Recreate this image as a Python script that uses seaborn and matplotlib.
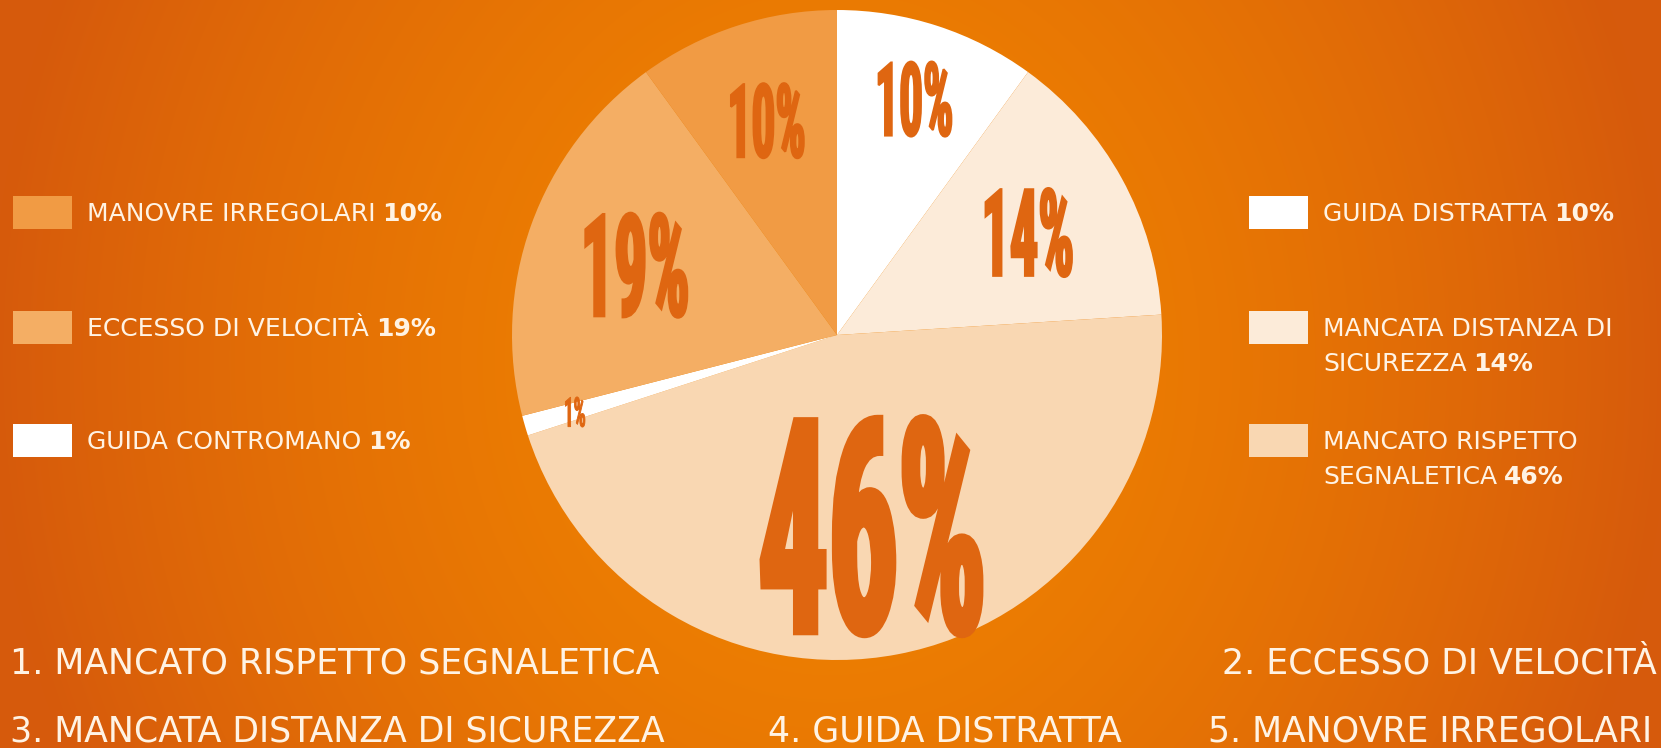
import textwrap
import numpy as np
import matplotlib
matplotlib.use("Agg")
import matplotlib.pyplot as plt
import seaborn as sns
from matplotlib.patches import Rectangle
from matplotlib.patheffects import AbstractPathEffect
from matplotlib.transforms import Affine2D
from matplotlib.colors import to_rgb
from matplotlib.font_manager import FontProperties, findfont
from matplotlib.textpath import TextPath

# causes in pie order, starting at 12 o'clock and going clockwise
causes = ["Guida distratta", "Mancata distanza di sicurezza",
          "Mancato rispetto segnaletica", "Guida contromano",
          "Eccesso di velocità", "Manovre irregolari"]
shares = [10, 14, 46, 1, 19, 10]

left_legend = ["Manovre irregolari", "Eccesso di velocità", "Guida contromano"]
right_legend = ["Guida distratta", "Mancata distanza di sicurezza",
                "Mancato rispetto segnaletica"]

# styling
slice_colors = ["#FFFFFF", "#FCEBD9", "#F9D7B2", "#FFFFFF", "#F4AE64", "#F19B44"]
label_height = [77, 91, 224, 31, 107, 77]           # digit height in px, per slice
label_radius = [0.77, 0.67, 0.58, 0.84, 0.66, 0.70]  # fraction of pie radius
label_color = "#DF6611"
text_color = "#FFF3E4"

W, H = 1661, 748
PX = 100 / 72  # px per pt


def pick_font(names, weight="bold"):
    for n in names:
        try:
            findfont(FontProperties(family=n, weight=weight), fallback_to_default=False)
            return n
        except ValueError:
            continue
    return "DejaVu Sans"


narrow = pick_font(["Liberation Sans Narrow", "DejaVu Sans Condensed",
                    "Roboto Condensed", "Open Sans Condensed", "DejaVu Sans"])
narrow_fp = FontProperties(family=narrow, weight="bold")
digit_h = TextPath((0, 0), "0", size=100, prop=narrow_fp).get_extents().height / 100
nat_w = TextPath((0, 0), "10%", size=100, prop=narrow_fp).get_extents().width / 100
# tall, condensed look: stretch glyphs upward instead of squeezing sideways
stretch_y = max(1.0, nat_w / (0.97 * digit_h))


class Stretch(AbstractPathEffect):
    """Stretch glyphs vertically from the baseline and fatten them a little."""

    def __init__(self, sy=1.5, lw=0.0):
        super().__init__()
        self.sy = sy
        self.lw = lw

    def draw_path(self, renderer, gc, tpath, affine, rgbFace=None):
        by = affine.transform((0, 0))[1]
        tr = affine + Affine2D().translate(0, -by).scale(1, self.sy).translate(0, by)
        gc0 = renderer.new_gc()
        gc0.copy_properties(gc)
        gc0.set_linewidth(self.lw)
        gc0.set_foreground(rgbFace)
        gc0.set_joinstyle("miter")
        renderer.draw_path(gc0, tpath, tr, rgbFace)
        gc0.restore()


sns.set_theme(style="white")
plt.rcParams["font.family"] = ["DejaVu Sans"]

fig = plt.figure(figsize=(W / 100, H / 100), dpi=100)
ax = fig.add_axes([0, 0, 1, 1])

# orange radial background
yy, xx = np.mgrid[0:H, 0:W]
t = np.sqrt(((xx - 830) / 840.0) ** 2 + ((yy - 360) / 950.0) ** 2)
t = np.clip(t, 0, 1) ** 1.6
c0 = np.array(to_rgb("#F08300"))
c1 = np.array(to_rgb("#D65A0C"))
bg = c0 * (1 - t[..., None]) + c1 * t[..., None]
ax.imshow(bg, extent=(0, W, 0, H), origin="upper", aspect="auto", zorder=0)

# pie
cx, cy, R = 837, H - 335, 325
wedges, _ = ax.pie(shares, colors=slice_colors, startangle=90, counterclock=False,
                   center=(cx, cy), radius=R, frame=True,
                   wedgeprops=dict(linewidth=0))
for w in wedges:
    w.set_zorder(2)

for w, val, hpx, frac in zip(wedges, shares, label_height, label_radius):
    mid = np.deg2rad(0.5 * (w.theta1 + w.theta2))
    x = w.center[0] + frac * w.r * np.cos(mid)
    y = w.center[1] + frac * w.r * np.sin(mid)
    lw_pt = 0.02 * hpx
    fs = (hpx - lw_pt * PX) / (digit_h * stretch_y) / PX
    ax.text(x, y - hpx / 2, f"{val}%", fontsize=fs,
            fontfamily=narrow, fontweight="bold",
            color=label_color, ha="center", va="baseline", zorder=3,
            path_effects=[Stretch(sy=stretch_y, lw=lw_pt)])

# legends
share_of = dict(zip(causes, shares))
leg_fs = 18
leg_cap = 0.729 * leg_fs * PX
box_w, box_h = 59, 33
rows_y = [212, 327, 440]   # image-space centres of the legend rows
line_gap = 35


def legend_column(names, box_x, text_x):
    for name, yc in zip(names, rows_y):
        color = slice_colors[causes.index(name)]
        ax.add_patch(Rectangle((box_x, H - yc - box_h / 2), box_w, box_h,
                               facecolor=color, edgecolor="none", zorder=2))
        lines = textwrap.wrap(name.upper(), 19)
        last = None
        for i, line in enumerate(lines):
            base = H - (yc + i * line_gap) - leg_cap / 2
            last = ax.text(text_x, base, line, fontsize=leg_fs, color=text_color,
                           ha="left", va="baseline", zorder=3)
        ax.annotate(f"{share_of[name]}%", xy=(1, 0), xycoords=last,
                    xytext=(5, 0), textcoords="offset points",
                    fontsize=leg_fs, fontweight="bold", color=text_color,
                    ha="left", va="bottom", zorder=3)


legend_column(left_legend, 13, 87)
legend_column(right_legend, 1249, 1323)

# top-5 ranking along the bottom
order = sorted(range(len(causes)), key=lambda i: -shares[i])[:5]
ranking = [f"{k + 1}. {causes[i].upper()}" for k, i in enumerate(order)]
rank_fs = 25
rank_cap = 0.729 * rank_fs * PX
slots = [(10, 661, "left"), (1657, 661, "right"), (10, 729, "left"),
         (768, 729, "left"), (1208, 729, "left")]
for label, (x, yc, ha) in zip(ranking, slots):
    ax.text(x, H - yc - rank_cap / 2, label, fontsize=rank_fs, color=text_color,
            ha=ha, va="baseline", zorder=3)

ax.set_xlim(0, W)
ax.set_ylim(0, H)
ax.set_aspect("auto")
ax.axis("off")

fig.savefig("out.png", dpi=100)
